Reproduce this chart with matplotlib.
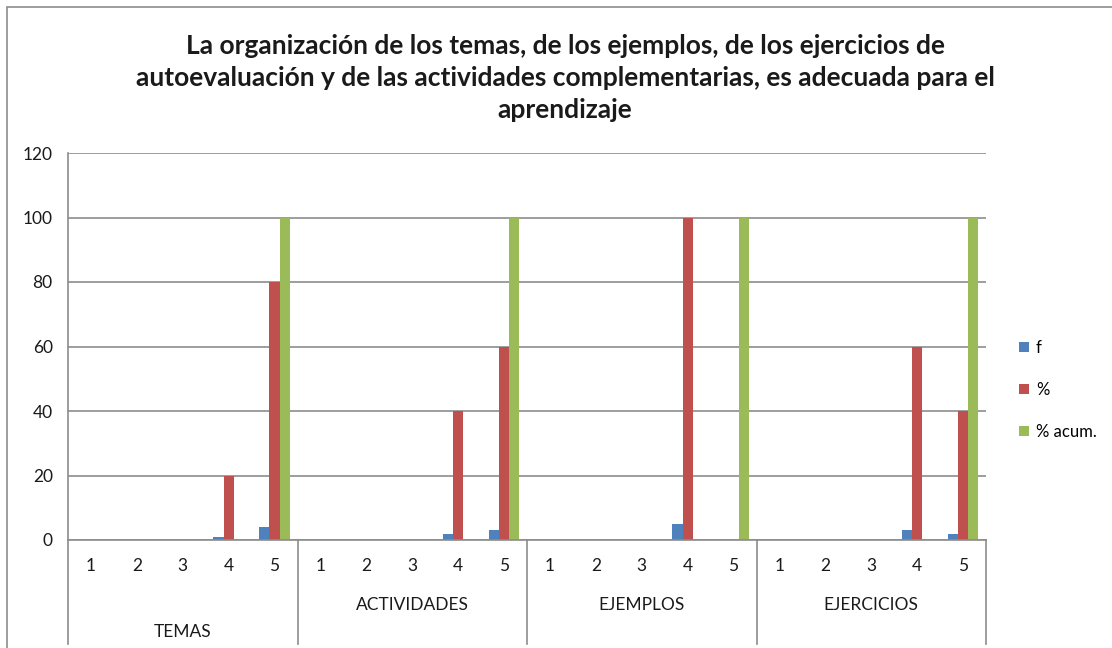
import numpy as np
import matplotlib
matplotlib.use("Agg")
import matplotlib.pyplot as plt
from matplotlib.patches import Rectangle

plt.rcParams['font.family'] = ['Lato', 'DejaVu Sans']

# datos
grupos = ['TEMAS', 'ACTIVIDADES', 'EJEMPLOS', 'EJERCICIOS']
niveles = ['1', '2', '3', '4', '5']
f = [0, 0, 0, 1, 4,  0, 0, 0, 2, 3,  0, 0, 0, 5, 0,  0, 0, 0, 3, 2]
pct = [0, 0, 0, 20, 80,  0, 0, 0, 40, 60,  0, 0, 0, 100, 0,  0, 0, 0, 60, 40]
pct_acum = [0, 0, 0, 0, 100,  0, 0, 0, 0, 100,  0, 0, 0, 0, 100,  0, 0, 0, 0, 100]
series = ['f', '%', '% acum.']
colores = ['#4F81BD', '#C0504D', '#9BBB59']
titulo = ('La organización de los temas, de los ejemplos, de los ejercicios de\n'
          'autoevaluación y de las actividades complementarias, es adecuada para el\n'
          'aprendizaje')

fig = plt.figure(figsize=(11.12, 6.48), dpi=100)
ax = fig.add_axes([68/1112, 1-540/648, (986-68)/1112, (540-153)/648])

# borde del grafico
fig.patches.append(Rectangle((7/1112, -0.1), 1.2, 1.1 - 7/648, transform=fig.transFigure,
                             fill=False, edgecolor='#8c8c8c', lw=1.2))

n = len(f)
x = np.arange(n)
w = 0.222
for i, (vals, nom) in enumerate(zip([f, pct, pct_acum], series)):
    ax.bar(x + (i - 1) * w, vals, width=w, color=colores[i], label=nom)

ax.set_xlim(-0.5, n - 0.5)
ax.set_ylim(0, 120)
ax.set_yticks(range(0, 121, 20))
ax.yaxis.grid(True, color='#8c8c8c', lw=1.2)
ax.set_axisbelow(True)
for s in ['top', 'right']:
    ax.spines[s].set_visible(False)
for s in ['left', 'bottom']:
    ax.spines[s].set_color('#8c8c8c')
    ax.spines[s].set_linewidth(1.2)
ax.tick_params(axis='y', length=0, pad=11, labelsize=12.5, colors='#1a1a1a')
ax.tick_params(axis='x', length=0, pad=13, labelsize=12.5, colors='#1a1a1a')
ax.set_xticks(x)
ax.set_xticklabels(niveles * len(grupos))

# ejes de categorias agrupadas
trans = ax.get_xaxis_transform()
for k in range(len(grupos) + 1):
    xs = k * 5 - 0.5
    ax.plot([xs, xs], [0, -0.27], transform=trans, color='#8c8c8c', lw=1.2, clip_on=False)
for k, g in enumerate(grupos):
    yy = -0.238 if k == 0 else -0.168
    ax.text(k * 5 + 2, yy, g, transform=trans, ha='center', va='center', fontsize=12.5, color='#1a1a1a')

fig.text(565/1112, 1-78/648, titulo, ha='center', va='center', fontsize=19, fontweight='bold',
         linespacing=1.38, color='#1a1a1a')

ax.legend(loc='center left', bbox_to_anchor=(1.02, 0.388), frameon=False, fontsize=12,
          handlelength=0.6, handleheight=0.6, labelspacing=1.55, handletextpad=0.4)

fig.savefig('out.png', dpi=100)
